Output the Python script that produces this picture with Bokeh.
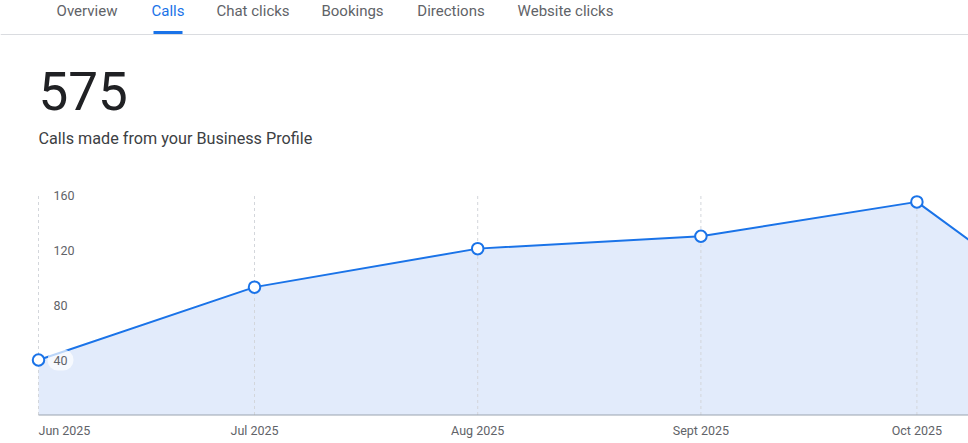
import pandas as pd
from bokeh.plotting import figure
from bokeh.models import Range1d, ColumnDataSource
from bokeh.core.properties import value
from bokeh.embed import file_html
from bokeh.resources import INLINE

# ---------------- data ----------------
tabs = ["Overview", "Calls", "Chat clicks", "Bookings", "Directions", "Website clicks"]
active_tab = "Calls"
total_label = "575"
subtitle = "Calls made from your Business Profile"
months = ["2025-06-01", "2025-07-01", "2025-08-01", "2025-09-01", "2025-10-01", "2025-11-01"]
month_labels = ["Jun 2025", "Jul 2025", "Aug 2025", "Sept 2025", "Oct 2025", "Nov 2025"]
calls = [40, 93, 121, 130, 155, 36]
y_ticks = [40, 80, 120, 160]

# ---------------- layout / style ----------------
FONT = value("Roboto")
BLUE = "#1a73e8"
GREY_TXT = "#5f6368"
W, H = 968, 443
PX_PER_DAY = 7.2
LEFT_PX = 38          # canvas x of first month
ZERO_PX = 414.5       # canvas y of value 0
PX_PER_UNIT = 1.375

dates = pd.to_datetime(months)
xs = [d.timestamp() * 1000 for d in dates]
day_ms = 86400000.0
x0 = xs[0] - LEFT_PX / PX_PER_DAY * day_ms
x1 = xs[0] + (W - LEFT_PX) / PX_PER_DAY * day_ms
y_top = ZERO_PX / PX_PER_UNIT
y_bot = -(H - ZERO_PX) / PX_PER_UNIT

p = figure(width=W, height=H, x_range=Range1d(x0, x1), y_range=Range1d(y_bot, y_top),
           x_axis_location=None, y_axis_location=None, toolbar_location=None,
           output_backend="svg", min_border=0, outline_line_color=None,
           background_fill_color="white", border_fill_color="white")
p.grid.visible = False
p.extra_x_ranges = {"px": Range1d(0, W)}
p.extra_y_ranges = {"px": Range1d(H, 0)}

src = ColumnDataSource(dict(x=xs, y=calls, zero=[0] * len(xs), top=[max(y_ticks)] * len(xs)))

# area
p.varea(x="x", y1="zero", y2="y", source=src, fill_color="#e2ebfb")
# vertical dashed grid lines
p.segment(x0="x", y0="zero", x1="x", y1="top", source=src, line_color="#d3d6db",
          line_width=1, line_dash="3 3")
# baseline
p.segment(x0=[xs[0]], y0=[0], x1=[xs[-1]], y1=[0], line_color="#9aa3b0", line_width=1.2)
# line
p.line(x="x", y="y", source=src, line_color=BLUE, line_width=2)

# y labels (inside plot)
p.text(x=[xs[0]] * len(y_ticks), y=y_ticks, text=[str(t) for t in y_ticks],
       x_offset=9, text_align="left", text_baseline="middle",
       text_font=FONT, text_font_size="12.5px", text_color=GREY_TXT,
       background_fill_color="white", background_fill_alpha=0.7,
       border_radius=12, padding=6)

# markers
p.scatter(x="x", y="y", source=src, size=11.5, fill_color="white",
          line_color=BLUE, line_width=2)

# x labels (only those inside the visible range)
vis = [i for i, x in enumerate(xs) if x <= x1]
p.text(x=[xs[0]], y=[0], text=[month_labels[0]], y_offset=15,
       text_align="left", text_baseline="middle",
       text_font=FONT, text_font_size="12.5px", text_color=GREY_TXT)
p.text(x=[xs[i] for i in vis[1:]], y=[0] * (len(vis) - 1),
       text=[month_labels[i] for i in vis[1:]], y_offset=15,
       text_align="center", text_baseline="middle",
       text_font=FONT, text_font_size="12.5px", text_color=GREY_TXT)

# tabs
tab_x = [86.5, 167.5, 252.5, 352, 450.5, 565]
tab_src = ColumnDataSource(dict(x=tab_x, y=[10] * len(tabs), text=tabs,
                                color=[BLUE if t == active_tab else GREY_TXT for t in tabs]))
p.text(x="x", y="y", text="text", text_color="color", source=tab_src,
       x_range_name="px", y_range_name="px", text_align="center", text_baseline="middle",
       text_font=FONT, text_font_size="15px")
p.segment(x0=[0], y0=[34], x1=[W], y1=[34], line_color="#dadce0", line_width=1,
          x_range_name="px", y_range_name="px")
ai = tabs.index(active_tab)
p.quad(left=[tab_x[ai] - 14.5], right=[tab_x[ai] + 14.5], top=[30.5], bottom=[33.5],
       fill_color=BLUE, line_color=None, x_range_name="px", y_range_name="px")

# headline
p.text(x=[38], y=[90], text=[total_label], x_range_name="px", y_range_name="px",
       text_align="left", text_baseline="middle", text_font=FONT,
       text_font_size="53px", text_color="#202124")
p.text(x=[38], y=[137.5], text=[subtitle], x_range_name="px", y_range_name="px",
       text_align="left", text_baseline="middle", text_font=FONT,
       text_font_size="16.2px", text_color="#3c4043")

open("out.html", "w").write(file_html(p, INLINE))
